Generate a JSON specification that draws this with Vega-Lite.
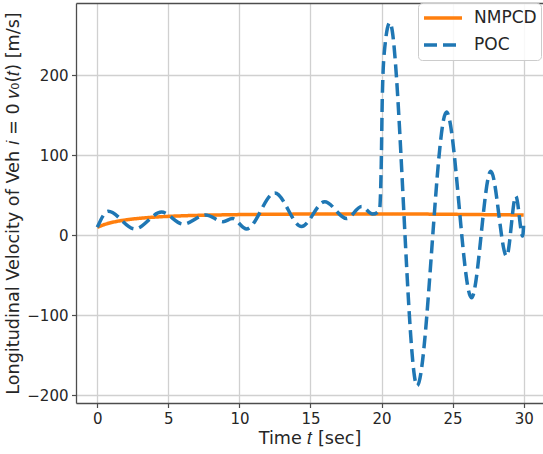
{
  "$schema": "https://vega.github.io/schema/vega-lite/v6.json",
  "width": 467,
  "height": 400,
  "autosize": {"type": "none"},
  "padding": {"left": 76, "top": 3, "right": 0, "bottom": 51},
  "background": "white",
  "data": {
    "values": [
      {"series": "NMPCD", "t": 0, "v": 10},
      {"series": "NMPCD", "t": 0.5, "v": 13.5},
      {"series": "NMPCD", "t": 1, "v": 16},
      {"series": "NMPCD", "t": 1.5, "v": 17.8},
      {"series": "NMPCD", "t": 2, "v": 19.3},
      {"series": "NMPCD", "t": 3, "v": 21.3},
      {"series": "NMPCD", "t": 4, "v": 22.7},
      {"series": "NMPCD", "t": 5, "v": 23.7},
      {"series": "NMPCD", "t": 6, "v": 24.4},
      {"series": "NMPCD", "t": 8, "v": 25.3},
      {"series": "NMPCD", "t": 10, "v": 25.9},
      {"series": "NMPCD", "t": 13, "v": 26.4},
      {"series": "NMPCD", "t": 16, "v": 26.7},
      {"series": "NMPCD", "t": 20, "v": 26.8},
      {"series": "NMPCD", "t": 24, "v": 26.4},
      {"series": "NMPCD", "t": 27, "v": 25.9},
      {"series": "NMPCD", "t": 30, "v": 25.4},
      {"series": "POC", "t": 0, "v": 10},
      {"series": "POC", "t": 0.76, "v": 30},
      {"series": "POC", "t": 2.64, "v": 8},
      {"series": "POC", "t": 4.52, "v": 29},
      {"series": "POC", "t": 6.04, "v": 14},
      {"series": "POC", "t": 7.64, "v": 25.5},
      {"series": "POC", "t": 8.85, "v": 17},
      {"series": "POC", "t": 9.5, "v": 21},
      {"series": "POC", "t": 10.5, "v": 8},
      {"series": "POC", "t": 12.49, "v": 53},
      {"series": "POC", "t": 14.37, "v": 11},
      {"series": "POC", "t": 16.0, "v": 42},
      {"series": "POC", "t": 17.54, "v": 21},
      {"series": "POC", "t": 18.6, "v": 36},
      {"series": "POC", "t": 19.37, "v": 26.5},
      {"series": "POC", "t": 19.85, "v": 31},
      {"series": "POC", "t": 19.98, "v": 90},
      {"series": "POC", "t": 20.05, "v": 170},
      {"series": "POC", "t": 20.2, "v": 230},
      {"series": "POC", "t": 20.58, "v": 266},
      {"series": "POC", "t": 22.5, "v": -188},
      {"series": "POC", "t": 24.57, "v": 154},
      {"series": "POC", "t": 26.33, "v": -78},
      {"series": "POC", "t": 27.69, "v": 80},
      {"series": "POC", "t": 28.8, "v": -26},
      {"series": "POC", "t": 29.45, "v": 49},
      {"series": "POC", "t": 29.93, "v": -1},
      {"series": "POC", "t": 30, "v": 14}
    ]
  },
  "layer": [
    {
      "transform": [{"filter": "datum.series === 'NMPCD'"}],
      "mark": {"type": "line", "interpolate": "monotone", "strokeWidth": 3.5, "strokeCap": "butt"},
      "encoding": {
        "x": {
          "field": "t", "type": "quantitative",
          "scale": {"domain": [-1.5, 31.36], "nice": false, "zero": false},
          "axis": {"orient": "bottom", "values": [0, 5, 10, 15, 20, 25, 30], "title": "Time 𝑡 [sec]", "titlePadding": 3, "grid": true}
        },
        "y": {
          "field": "v", "type": "quantitative",
          "scale": {"domain": [-209.6, 290.4], "nice": false, "zero": false},
          "axis": {"values": [-200, -100, 0, 100, 200], "title": "Longitudinal Velocity of Veh 𝑖 = 0 𝑣₀(𝑡) [m/s]", "titlePadding": 4, "grid": true}
        },
        "color": {
          "field": "series", "type": "nominal",
          "scale": {"domain": ["NMPCD", "POC"], "range": ["#ff7f0e", "#1f77b4"]},
          "legend": {"orient": "none", "legendX": 342, "legendY": 0, "title": null, "symbolType": "stroke", "symbolSize": 1444, "symbolStrokeWidth": 3.5, "clipHeight": 22, "rowPadding": 5, "padding": 4, "labelOffset": 10, "labelFontSize": 17, "labelFont": "DejaVu Sans", "labelColor": "#262626", "fillColor": "rgba(255,255,255,0.85)", "strokeColor": "#cccccc", "cornerRadius": 4}
        },
        "strokeDash": {
          "field": "series", "type": "nominal",
          "scale": {"domain": ["NMPCD", "POC"], "range": [[1, 0], [13, 6]]},
          "legend": {"orient": "none", "legendX": 342, "legendY": 0, "title": null, "symbolType": "stroke", "symbolSize": 1444, "symbolStrokeWidth": 3.5, "clipHeight": 22, "rowPadding": 5, "padding": 4, "labelOffset": 10, "labelFontSize": 17, "labelFont": "DejaVu Sans", "labelColor": "#262626", "fillColor": "rgba(255,255,255,0.85)", "strokeColor": "#cccccc", "cornerRadius": 4}
        }
      }
    },
    {
      "transform": [{"filter": "datum.series === 'POC'"}],
      "mark": {"type": "line", "interpolate": "monotone", "strokeWidth": 3.5, "strokeCap": "butt"},
      "encoding": {
        "x": {
          "field": "t", "type": "quantitative",
          "scale": {"domain": [-1.5, 31.36], "nice": false, "zero": false},
          "axis": {"orient": "top", "labels": false, "ticks": false, "grid": false, "title": null, "domain": true}
        },
        "y": {"field": "v", "type": "quantitative"},
        "color": {"field": "series", "type": "nominal"},
        "strokeDash": {"field": "series", "type": "nominal"}
      }
    }
  ],
  "resolve": {"axis": {"x": "independent"}},
  "config": {
    "view": {"stroke": null},
    "axis": {
      "labelFont": "DejaVu Sans", "labelFontSize": 15, "labelColor": "#262626",
      "titleFont": "DejaVu Sans", "titleFontSize": 17.6, "titleFontWeight": "normal", "titleColor": "#262626",
      "tickColor": "#4d4d4d", "tickSize": 4.5, "tickWidth": 1.2, "labelPadding": 3.5,
      "domainColor": "#4d4d4d", "domainWidth": 1.3,
      "gridColor": "#d0d0d0", "gridWidth": 1.3
    }
  }
}
